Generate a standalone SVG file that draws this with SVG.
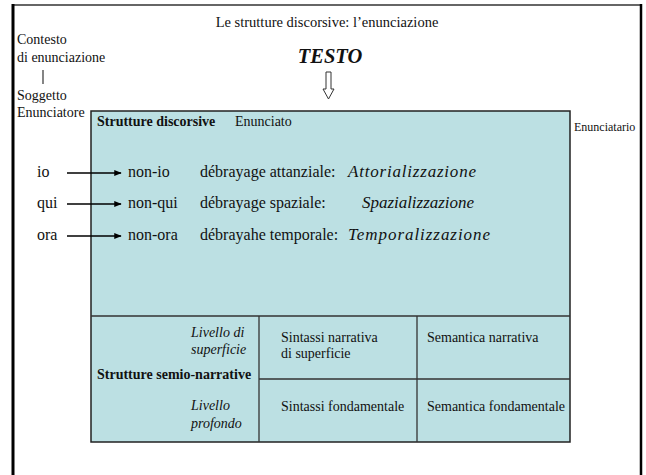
<svg xmlns="http://www.w3.org/2000/svg" width="646" height="475" viewBox="0 0 646 475">
<defs>
<style>
text{font-family:"Liberation Serif","Times New Roman",serif;fill:#111}
.t14{font-size:14px}
.t12{font-size:12px}
.t16{font-size:16px}
.it{font-size:17px;font-style:italic}
.b{font-weight:bold}
.i{font-style:italic}
.grid{stroke:#333;stroke-width:1.3;fill:none}
.conn{stroke:#000;stroke-width:1.5;fill:none}
</style>
<marker id="ah" viewBox="0 0 10 10" refX="9" refY="5" markerWidth="5" markerHeight="5" markerUnits="strokeWidth" orient="auto">
<path d="M0,1 L10,5 L0,9 z" fill="#000"/>
</marker>
</defs>
<rect x="0" y="0" width="646" height="475" fill="#fff"/>
<g id="frame">
<line x1="13" y1="5" x2="641" y2="5" stroke="#666" stroke-width="2"/>
<line x1="13" y1="4" x2="13" y2="475" stroke="#000" stroke-width="3"/>
<line x1="641" y1="4" x2="641" y2="475" stroke="#000" stroke-width="2.5"/>
</g>
<g id="title"><text x="327" y="27" text-anchor="middle" font-size="14.5">Le strutture discorsive: l’enunciazione</text></g>
<g id="contesto">
<text class="t14" x="17" y="44">Contesto</text>
<text class="t14" x="17" y="62">di enunciazione</text>
<line x1="43" y1="70" x2="43" y2="84" stroke="#333" stroke-width="1.2"/>
<text class="t14" x="17" y="100">Soggetto</text>
<text class="t14" x="17" y="117">Enunciatore</text>
</g>
<g id="testo">
<text x="330" y="63" text-anchor="middle" class="b i" font-size="20.5">TESTO</text>
<polygon points="326,72 331,72 331,89 334,89 328.5,99 323,89 326,89" fill="#fff" stroke="#333" stroke-width="1"/>
</g>
<g id="enunciatario"><text class="t12" x="574" y="131">Enunciatario</text></g>
<g id="box">
<rect x="91" y="111" width="479" height="331" fill="#bce0e3" stroke="#222" stroke-width="1.5"/>
<line class="grid" x1="91" y1="316" x2="570" y2="316"/>
<line class="grid" x1="259" y1="316" x2="259" y2="442"/>
<line class="grid" x1="417" y1="316" x2="417" y2="442"/>
<line class="grid" x1="259" y1="379" x2="570" y2="379"/>
<text class="t14 b" x="97" y="126">Strutture discorsive</text>
<text class="t14" x="235" y="126">Enunciato</text>
</g>
<g id="row-io">
<text class="t16" x="37" y="177">io</text>
<text class="t16" x="128" y="177">non-io</text>
<text class="t16" x="200" y="177">débrayage attanziale:</text>
<text class="it" x="348" y="177" textLength="128" lengthAdjust="spacing">Attorializzazione</text>
</g>
<g id="row-qui">
<text class="t16" x="37" y="208">qui</text>
<text class="t16" x="128" y="208">non-qui</text>
<text class="t16" x="200" y="208">débrayage spaziale:</text>
<text class="it" x="362" y="208" textLength="112" lengthAdjust="spacing">Spazializzazione</text>
</g>
<g id="row-ora">
<text class="t16" x="37" y="240">ora</text>
<text class="t16" x="128" y="240">non-ora</text>
<text class="t16" x="200" y="240">débrayahe temporale:</text>
<text class="it" x="348" y="240" textLength="142" lengthAdjust="spacing">Temporalizzazione</text>
</g>
<g id="semio">
<text class="t14 i" x="191" y="337">Livello di</text>
<text class="t14 i" x="191" y="354">superficie</text>
<text class="t14 b" x="97" y="379">Strutture semio-narrative</text>
<text class="t14 i" x="191" y="410">Livello</text>
<text class="t14 i" x="191" y="428">profondo</text>
</g>
<g id="cell-sintassi-narrativa">
<text class="t14" x="281" y="342">Sintassi narrativa</text>
<text class="t14" x="281" y="358">di superficie</text>
</g>
<g id="cell-semantica-narrativa"><text class="t14" x="427" y="342">Semantica narrativa</text></g>
<g id="cell-sintassi-fondamentale"><text class="t14" x="281" y="411">Sintassi fondamentale</text></g>
<g id="cell-semantica-fondamentale"><text class="t14" x="427" y="411">Semantica fondamentale</text></g>
<g id="connectors">
<line class="conn" x1="67" y1="173" x2="121" y2="173" marker-end="url(#ah)"/>
<line class="conn" x1="67" y1="204" x2="121" y2="204" marker-end="url(#ah)"/>
<line class="conn" x1="67" y1="236" x2="121" y2="236" marker-end="url(#ah)"/>
</g>
</svg>
